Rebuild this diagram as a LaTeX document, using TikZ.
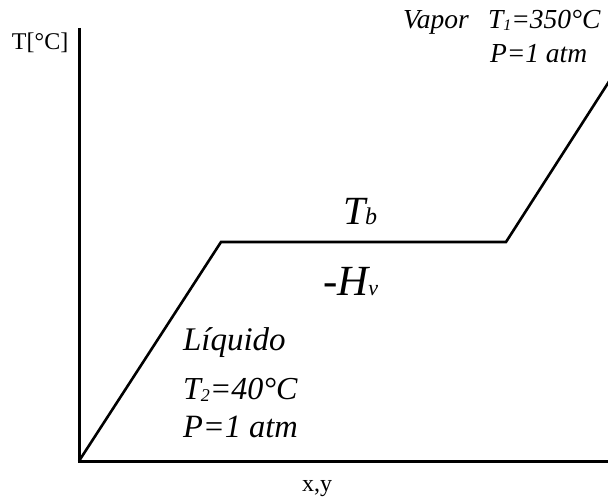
\documentclass[tikz,border=0pt]{standalone}
\usepackage{fontspec}
\setmainfont{Liberation Serif}
\tikzset{
  axisline/.style={line width=3pt},
  curveline/.style={line width=2.6pt, line join=miter},
  lbl/.style={anchor=base west, inner sep=0pt, outer sep=0pt},
}
\newcommand{\fs}[1]{\fontsize{#1}{#1}\selectfont}
\begin{document}
\begin{tikzpicture}[x=1pt,y=-1pt]
\useasboundingbox (0,0) rectangle (608,497);
% axes
\coordinate (top) at (79,28);
\coordinate (orig) at (79,461);
\coordinate (xend) at (608,461);
\draw[axisline] (top) -- (orig) -- (xend);
% curve
\coordinate (k1) at (221,242);
\coordinate (k2) at (506,242);
\coordinate (cend) at (610,80);
\draw[curveline] (orig) -- (k1) -- (k2) -- (cend);
% labels
\node[lbl] (tlab) at (12,50) {\fs{24}T[°C]};
\node[lbl] (xylab) at (302,491) {\fs{24}x,y};
\node[lbl] (vapor) at (403,29) {\fs{27.5}\itshape Vapor};
\node[lbl] (t1) at (488,29) {\fs{27.5}\itshape T{\fs{16}\raisebox{-2pt}{1}}=350°C};
\node[lbl] (p1) at (490,63) {\fs{27.5}\itshape P=1 atm};
\node[lbl] (tb) at (343,225) {\fs{40}\itshape T{\fs{24}b}};
\node[lbl] (hv) at (323,295) {\fs{43}\itshape -H{\fs{22}v}};
\node[lbl] (liq) at (183,350) {\fs{33}\itshape Líquido};
\node[lbl] (t2) at (183,399) {\fs{32}\itshape T{\fs{18}\raisebox{-2pt}{2}}=40°C};
\node[lbl] (p2) at (183,437) {\fs{32.5}\itshape P=1 atm};
\end{tikzpicture}
\end{document}
